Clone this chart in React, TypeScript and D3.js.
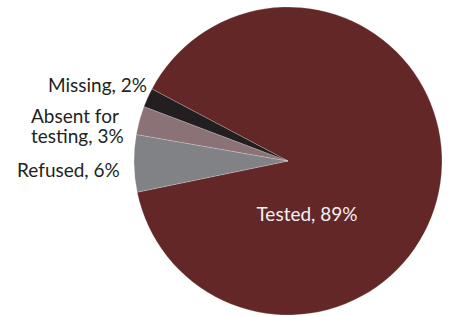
import React from "react";
import * as d3 from "d3";

const categories = ["Tested", "Refused", "Absent for testing", "Missing"];
const values = [89, 6, 3, 2];
const colors = ["#632728", "#808285", "#8a7276", "#231f20"];

export default function App() {
  const width = 449;
  const height = 316;
  const cx = 288;
  const cy = 161;
  const r = 154;
  const pie = d3
    .pie<number>()
    .sort(null)
    .value((d) => d)
    .startAngle((-62.1 * Math.PI) / 180)
    .endAngle((-62.1 * Math.PI) / 180 + 2 * Math.PI);
  const arcs = pie(values);
  const arc = d3.arc<d3.PieArcDatum<number>>().innerRadius(0).outerRadius(r);
  const font = "Lato, 'Open Sans', sans-serif";
  return (
    <svg
      width={width}
      height={height}
      style={{ position: "absolute", left: 0, top: 0 }}
    >
      <rect width={width} height={height} fill="#fff" />
      <g transform={`translate(${cx},${cy})`}>
        {arcs.map((a, i) => (
          <path
            key={categories[i]}
            d={arc(a) || ""}
            fill={colors[i]}
            stroke="#ffffff"
            strokeOpacity={0.35}
            strokeWidth={0.6}
          />
        ))}
      </g>
      <g fontFamily={font} fontSize={19} fill="#231f20">
        <text x={147} y={92} textAnchor="end">
          Missing, 2%
        </text>
        <text x={31} y={123}>
          Absent for
        </text>
        <text x={31} y={143}>
          testing, 3%
        </text>
        <text x={17} y={177}>
          Refused, 6%
        </text>
        <text x={307} y={221} textAnchor="middle" fill="#f4f0f0">
          Tested, 89%
        </text>
      </g>
    </svg>
  );
}
